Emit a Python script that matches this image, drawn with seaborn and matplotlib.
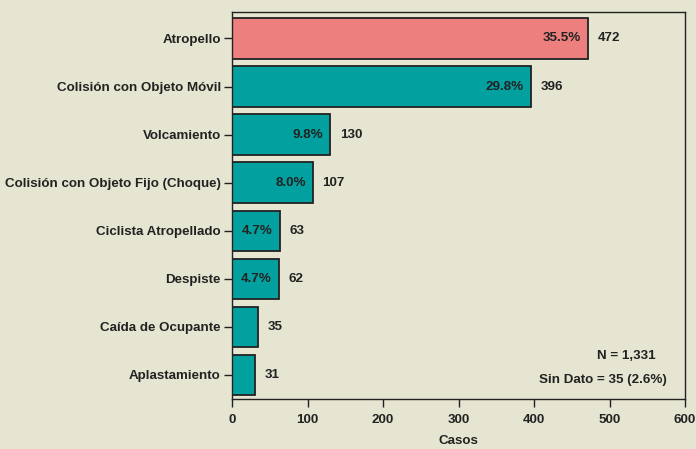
import matplotlib
matplotlib.use("Agg")
import matplotlib.pyplot as plt
import seaborn as sns
import pandas as pd

categories = ["Atropello", "Colisión con Objeto Móvil", "Volcamiento",
              "Colisión con Objeto Fijo (Choque)", "Ciclista Atropellado",
              "Despiste", "Caída de Ocupante", "Aplastamiento"]
counts = [472, 396, 130, 107, 63, 62, 35, 31]
percents = ["35.5%", "29.8%", "9.8%", "8.0%", "4.7%", "4.7%", "", ""]
xticks = [0, 100, 200, 300, 400, 500, 600]
note_lines = ["N = 1,331", "Sin Dato = 35 (2.6%)"]

bg = "#E6E5D1"
sns.set_theme(style="ticks")
plt.rcParams['font.family'] = ['Liberation Sans', 'DejaVu Sans']
fs = 9.6
tc = "#222222"

df = pd.DataFrame({"cat": categories, "n": counts})
colors = ["#EE7F7F"] + ["#02A09F"] * (len(categories) - 1)

fig = plt.figure(figsize=(6.96, 4.49), dpi=100, facecolor=bg)
ax = fig.add_axes([232/696, 1 - 399/449, (685-232)/696, (399-12)/449])
ax.set_facecolor(bg)
sns.barplot(data=df, y="cat", x="n", hue="cat", palette=colors, legend=False,
            orient="h", width=0.84, saturation=1, edgecolor=tc, linewidth=1.3, ax=ax)

for i, (c, p) in enumerate(zip(counts, percents)):
    ax.annotate(str(c), (c, i), xytext=(7, 0), textcoords="offset points",
                va="center", ha="left", fontsize=fs, fontweight="bold", color=tc)
    if p:
        ax.annotate(p, (c, i), xytext=(-5, 0), textcoords="offset points",
                    va="center", ha="right", fontsize=fs, fontweight="bold", color=tc)

ax.set_xlim(0, 600)
ax.set_ylim(7.5, -0.55)
ax.set_xticks(xticks)
ax.set_xticklabels([str(t) for t in xticks], fontsize=fs, fontweight="bold", color=tc)
ax.set_yticks(range(len(categories)))
ax.set_yticklabels(categories, fontsize=fs, fontweight="bold", color=tc)
ax.tick_params(axis="y", direction="inout", length=12, width=1, color=tc, pad=2)
ax.tick_params(axis="x", direction="out", length=6, width=1, color=tc, pad=5)
ax.set_ylabel("")
ax.set_xlabel("Casos", fontsize=fs, fontweight="bold", color=tc, labelpad=6)
for s in ax.spines.values():
    s.set_visible(True)
    s.set_color(tc)
    s.set_linewidth(1)

ax.text(0.935, 0.11, note_lines[0], transform=ax.transAxes, ha="right", va="center",
        fontsize=fs, fontweight="bold", color=tc)
ax.text(0.96, 0.05, note_lines[1], transform=ax.transAxes, ha="right", va="center",
        fontsize=fs, fontweight="bold", color=tc)

fig.savefig("out.png", dpi=100, facecolor=bg)
